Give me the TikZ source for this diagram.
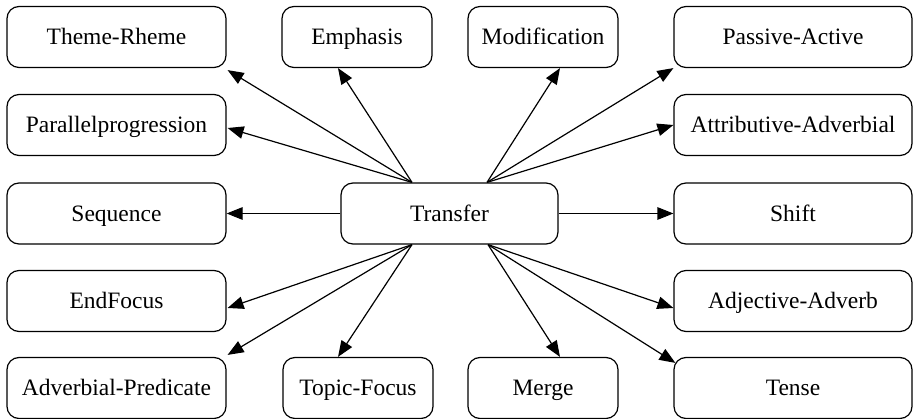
\documentclass[tikz,border=0pt]{standalone}
\usepackage{fontspec}
\setmainfont{Liberation Serif}
\usetikzlibrary{arrows.meta,calc}
\begin{document}
\begin{tikzpicture}[x=1pt,y=-1pt,
  box/.style={draw,line width=1.2pt,rounded corners=12pt,minimum height=61pt,inner sep=0pt,text height=15.5pt,text depth=0pt,font=\fontsize{23.5}{27}\selectfont},
  lbox/.style={box,minimum width=219pt},
  mbox/.style={box,minimum width=150pt},
  rbox/.style={box,minimum width=238pt},
  arr/.style={line width=1.2pt,-{Stealth[length=16pt,width=12.5pt,inset=0pt]}}]
\useasboundingbox (0,0) rectangle (916,419);
% left column
\node[lbox] (theme) at (116.5,37) {Theme-Rheme};
\node[lbox] (par) at (116.5,125) {Parallelprogression};
\node[lbox] (seq) at (116.5,213.5) {Sequence};
\node[lbox] (endf) at (116.5,301) {EndFocus};
\node[lbox] (advp) at (116.5,388) {Adverbial-Predicate};
% middle
\node[mbox] (emph) at (357,37) {Emphasis};
\node[mbox] (modif) at (543,37) {Modification};
\node[mbox] (topic) at (358,388) {Topic-Focus};
\node[mbox] (merge) at (543,388) {Merge};
\node[box,minimum width=217pt] (tr) at (449.5,213.5) {Transfer};
% right column
\node[rbox] (pass) at (793,37) {Passive-Active};
\node[rbox] (attr) at (793,125) {Attributive-Adverbial};
\node[rbox] (shift) at (793,213.5) {Shift};
\node[rbox] (adja) at (793,301) {Adjective-Adverb};
\node[rbox] (tense) at (793,388) {Tense};
% origins
\coordinate (tl) at ($(tr.north)+(-37.5,0)$);
\coordinate (trr) at ($(tr.north)+(37.5,0)$);
\coordinate (bl) at ($(tr.south)+(-37.5,0)$);
\coordinate (br) at ($(tr.south)+(38.5,0)$);
% arrows
\draw[arr] (tl) -- ($(theme.south east)+(1,2)$);
\draw[arr] (tl) -- ($(par.east)+(1,3)$);
\draw[arr] (tl) -- ($(emph.south)+(-19,0)$);
\draw[arr] (trr) -- ($(modif.south)+(17,0)$);
\draw[arr] (trr) -- (pass.south west);
\draw[arr] (trr) -- (attr.west);
\draw[arr] (tr.west) -- (seq.east);
\draw[arr] (tr.east) -- (shift.west);
\draw[arr] (bl) -- ($(endf.east)+(1,7)$);
\draw[arr] (bl) -- ($(advp.north east)+(1,-2)$);
\draw[arr] (bl) -- ($(topic.north)+(-20,0)$);
\draw[arr] (br) -- ($(merge.north)+(17,0)$);
\draw[arr] (br) -- ($(adja.west)+(0,7)$);
\draw[arr] (br) -- ($(tense.north west)+(2,6)$);
\end{tikzpicture}
\end{document}
